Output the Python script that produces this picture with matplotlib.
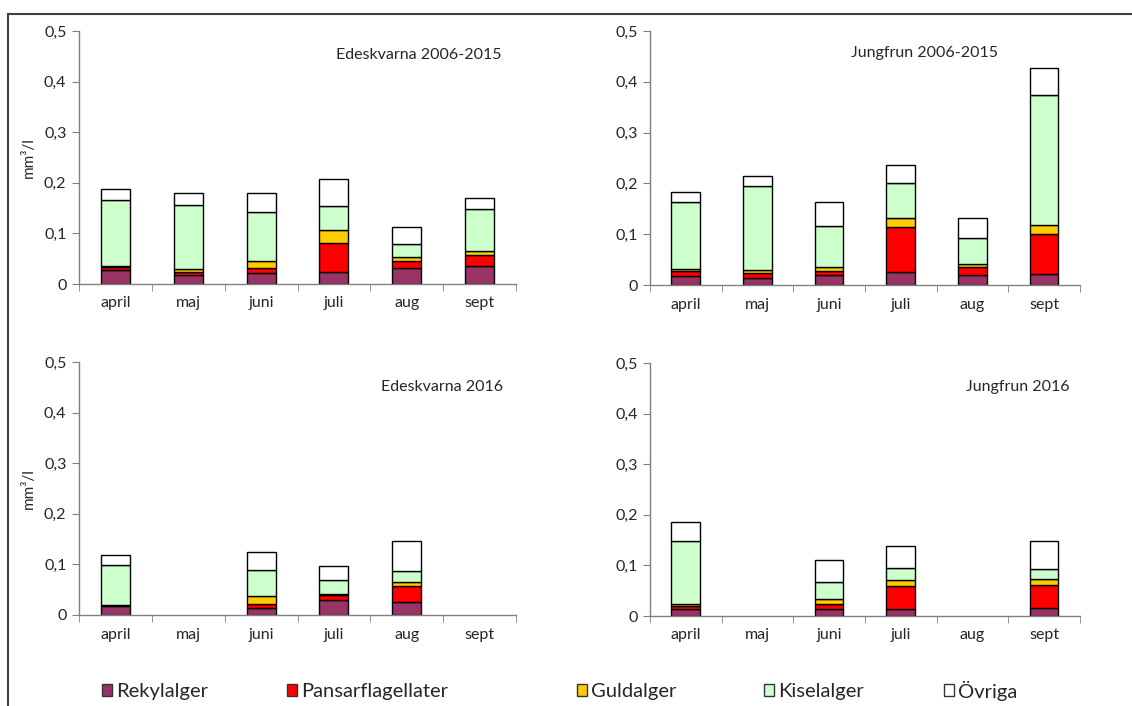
import numpy as np
import matplotlib.pyplot as plt
from matplotlib.patches import Rectangle
from matplotlib.lines import Line2D

plt.rcParams['font.family'] = ['Lato', 'DejaVu Sans']

months = ['april', 'maj', 'juni', 'juli', 'aug', 'sept']
series = ['Rekylalger', 'Pansarflagellater', 'Guldalger', 'Kiselalger', 'Övriga']
colors = ['#993366', '#FF0000', '#FFCC00', '#CCFFCC', '#FFFFFF']

# values per group, mm3/l (None = no sample)
ede_0615_rekyl = [0.027, 0.017, 0.021, 0.024, 0.032, 0.036]
ede_0615_pansar = [0.006, 0.007, 0.011, 0.058, 0.013, 0.022]
ede_0615_guld = [0.003, 0.005, 0.013, 0.025, 0.009, 0.007]
ede_0615_kisel = [0.130, 0.127, 0.098, 0.047, 0.025, 0.084]
ede_0615_ovriga = [0.022, 0.023, 0.036, 0.053, 0.034, 0.021]

jun_0615_rekyl = [0.018, 0.013, 0.020, 0.025, 0.020, 0.022]
jun_0615_pansar = [0.009, 0.011, 0.007, 0.090, 0.016, 0.078]
jun_0615_guld = [0.004, 0.005, 0.008, 0.016, 0.005, 0.019]
jun_0615_kisel = [0.133, 0.165, 0.082, 0.070, 0.052, 0.256]
jun_0615_ovriga = [0.019, 0.021, 0.046, 0.036, 0.038, 0.052]

ede_2016_rekyl = [0.017, None, 0.013, 0.029, 0.026, None]
ede_2016_pansar = [0.002, None, 0.009, 0.011, 0.032, None]
ede_2016_guld = [0.000, None, 0.016, 0.001, 0.008, None]
ede_2016_kisel = [0.080, None, 0.051, 0.029, 0.020, None]
ede_2016_ovriga = [0.019, None, 0.036, 0.027, 0.060, None]

jun_2016_rekyl = [0.0145, None, 0.013, 0.013, None, 0.015]
jun_2016_pansar = [0.0045, None, 0.011, 0.047, None, 0.047]
jun_2016_guld = [0.004, None, 0.010, 0.012, None, 0.011]
jun_2016_kisel = [0.126, None, 0.033, 0.023, None, 0.020]
jun_2016_ovriga = [0.036, None, 0.043, 0.044, None, 0.056]

panels = [
    ('Edeskvarna 2006-2015', [ede_0615_rekyl, ede_0615_pansar, ede_0615_guld, ede_0615_kisel, ede_0615_ovriga]),
    ('Jungfrun 2006-2015', [jun_0615_rekyl, jun_0615_pansar, jun_0615_guld, jun_0615_kisel, jun_0615_ovriga]),
    ('Edeskvarna 2016', [ede_2016_rekyl, ede_2016_pansar, ede_2016_guld, ede_2016_kisel, ede_2016_ovriga]),
    ('Jungfrun 2016', [jun_2016_rekyl, jun_2016_pansar, jun_2016_guld, jun_2016_kisel, jun_2016_ovriga]),
]

W, H = 1132, 706
fig = plt.figure(figsize=(W / 100, H / 100), dpi=100)

# axes boxes in pixels: left, right, top(0.5), bottom(0)
boxes = [(79, 516, 31, 284), (650, 1080, 31, 285), (79, 516, 362, 615), (650, 1080, 363, 616)]
# title anchors: x, y, ha
title_pos = [(502, 55, 'right'), (998, 53, 'right'), (503, 387, 'right'), (1070, 387, 'right')]

text_col = '#262626'
x = np.arange(len(months))

for i, (name, data) in enumerate(panels):
    l, r, t, b = boxes[i]
    ax = fig.add_axes([l / W, 1 - b / H, (r - l) / W, (b - t) / H])
    bottom = np.zeros(len(months))
    for vals, col in zip(data, colors):
        v = np.array([np.nan if a is None else a for a in vals], dtype=float)
        ax.bar(x, v, 0.4, bottom=bottom, color=col, edgecolor='black', linewidth=1.0)
        bottom = bottom + v
    ax.set_xlim(-0.5, 5.5)
    ax.set_ylim(0, 0.5)
    ax.set_yticks([0, 0.1, 0.2, 0.3, 0.4, 0.5])
    ax.set_yticklabels(['0', '0,1', '0,2', '0,3', '0,4', '0,5'])
    ax.set_xticks(x)
    ax.set_xticklabels(months)
    ax.set_xticks(np.arange(-0.5, 6, 1), minor=True)
    ax.tick_params(axis='x', which='major', length=0, pad=9, labelsize=11.5, colors=text_col)
    ax.tick_params(axis='x', which='minor', length=5, color='#808080', direction='out')
    ax.tick_params(axis='y', length=5, color='#808080', labelsize=11.5, colors=text_col, pad=4)
    for s in ['top', 'right']:
        ax.spines[s].set_visible(False)
    for s in ['left', 'bottom']:
        ax.spines[s].set_color('#808080')
        ax.spines[s].set_linewidth(1.0)
    if i % 2 == 0:
        ax.set_ylabel('mm³/l', fontsize=11, color=text_col, labelpad=6)
    tx, ty, ha = title_pos[i]
    fig.text(tx / W, 1 - ty / H, name, ha=ha, va='center', fontsize=11.5, color=text_col)

# legend
leg_x = [102, 287, 577, 764, 944]
leg_y = 690
for lx, name, col in zip(leg_x, series, colors):
    fig.patches.append(Rectangle((lx / W, 1 - (leg_y + 6) / H), 10 / W, 12 / H,
                                 facecolor=col, edgecolor='#333333', linewidth=1.0,
                                 transform=fig.transFigure, figure=fig))
    fig.text((lx + 14) / W, 1 - (leg_y + 1) / H, name, ha='left', va='center', fontsize=14.5, color=text_col)

# outer frame (cut off at right and bottom)
fig.lines.append(Line2D([8 / W, 1.0], [1 - 14 / H, 1 - 14 / H], color='#404040', lw=1.5,
                        transform=fig.transFigure, figure=fig))
fig.lines.append(Line2D([8 / W, 8 / W], [1 - 14 / H, 0.0], color='#404040', lw=1.5,
                        transform=fig.transFigure, figure=fig))

fig.savefig('out.png', dpi=100)
